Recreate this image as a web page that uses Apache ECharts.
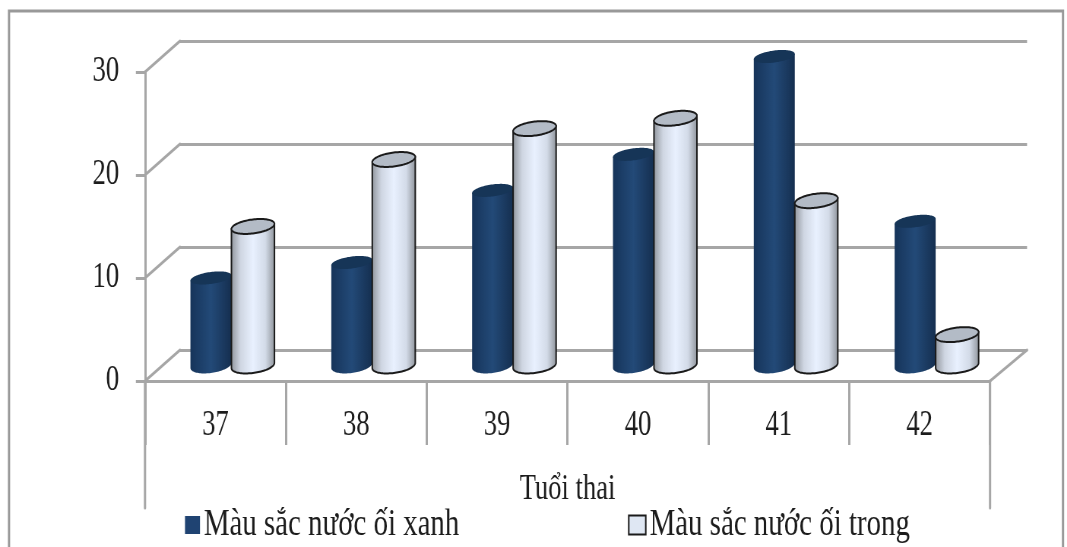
<!DOCTYPE html>
<html>
<head>
<meta charset="utf-8">
<style>
html,body{margin:0;padding:0;background:#fff;width:1067px;height:547px;overflow:hidden}
#stage{position:absolute;left:0;top:0;height:547px;transform-origin:0 0}
</style>
<script src="https://cdn.jsdelivr.net/npm/echarts@6/dist/echarts.min.js"></script>
</head>
<body>
<div id="stage"></div>
<script>
const categories = ['37', '38', '39', '40', '41', '42'];
const greenFluid = [8.5, 10, 17, 20.5, 30, 14];
const clearFluid = [13.5, 20, 23, 24, 16, 3];
const yTicks = [0, 10, 20, 30];
const seriesNames = ['Màu sắc nước ối xanh', 'Màu sắc nước ối trong'];
const axisTitle = 'Tuổi thai';

// The type is set condensed, so the drawing is laid out wider and narrowed as a whole.
const SX = 0.76;
const X = px => px / SX;
const stage = document.getElementById('stage');
stage.style.width = X(1067) + 'px';
stage.style.transform = 'scaleX(' + SX + ')';

const FONT = '"Liberation Serif","Times New Roman",serif';
const FS = 35;
const INK = '#1c1c1c';
const LINE = '#a6a6a6';
const DEPTH_X = 35, DEPTH_Y = 31;

const hGrad = stops => ({
  type: 'linear', x: 0, y: 0, x2: 1, y2: 0,
  colorStops: stops.map(s => ({ offset: s[0], color: s[1] }))
});

const darkBody = hGrad([[0, '#16345a'], [0.5, '#234a78'], [1, '#152f50']]);
const lightBody = hGrad([[0, '#8e939a'], [0.22, '#cfd6e2'], [0.5, '#e9f1ff'], [0.78, '#d3dbe8'], [1, '#8c9198']]);

// A cylinder standing at mid depth of the floor: a tilted top ellipse over a rounded body.
function cylinder(shift, radius, ry, body, cap, stroke) {
  return function (params, api) {
    const i = api.value(0);
    const top = api.coord([i, api.value(1)]);
    const base = api.coord([i, 0]);
    const cx = top[0] + X(DEPTH_X / 2 + shift);
    const yt = top[1] - DEPTH_Y / 2;
    const yb = base[1] - DEPTH_Y / 2;
    const rx = X(radius), tilt = 2.6;
    const at = (y, t, r) => [cx + rx * Math.cos(t), y + r * Math.sin(t) - tilt * Math.cos(t)];
    const N = 48;
    const bodyPts = [at(yt, Math.PI, ry), at(yt, 0, ry)];
    for (let k = 0; k <= N; k++) bodyPts.push(at(yb, Math.PI * k / N, 7.5));
    const capPts = [];
    for (let k = 0; k < N * 2; k++) capPts.push(at(yt, Math.PI * k / N, ry));
    const line = stroke ? { stroke: '#1a1a1a', lineWidth: 2 } : { stroke: null };
    return {
      type: 'group',
      children: [
        { type: 'polygon', shape: { points: bodyPts }, style: Object.assign({ fill: body }, line) },
        { type: 'polygon', shape: { points: capPts }, style: Object.assign({ fill: cap }, line) }
      ]
    };
  };
}

function seg(x1, y1, x2, y2) {
  return {
    type: 'line',
    shape: { x1, y1, x2, y2 },
    style: { stroke: LINE, lineWidth: 3, lineCap: 'round' }
  };
}

// Diagonal edges of the side wall, one per value tick.
function wallEdge(params, api) {
  const p = api.coord([0, api.value(1)]);
  const left = params.coordSys.x;
  return seg(left, p[1], left + X(DEPTH_X), p[1] - DEPTH_Y);
}

// Floor's right edge and the two long outer dividers under the axis.
function floorFrame(params) {
  const c = params.coordSys;
  const right = c.x + c.width, bottom = c.y + c.height;
  return {
    type: 'group',
    children: [
      seg(right, bottom, right + X(37), bottom - DEPTH_Y),
      seg(c.x, bottom, c.x, 508),
      seg(right, bottom, right, 508)
    ]
  };
}

const textStyle = { fontFamily: FONT, fontSize: FS, color: INK };
const legendText = { fontFamily: FONT, fontSize: 38, color: INK };

const option = {
  animation: false,
  backgroundColor: '#fff',
  textStyle: { fontFamily: FONT },
  graphic: [{
    type: 'rect',
    shape: { x: X(9), y: 11, width: X(1054), height: 560 },
    style: { fill: null, stroke: '#999', lineWidth: 3 },
    silent: true
  }],
  legend: [
    {
      left: X(185), top: 506, itemWidth: X(15), itemHeight: 18,
      padding: 0, textStyle: legendText,
      data: [{ name: seriesNames[0], icon: 'rect', itemStyle: { color: '#1f4372', borderWidth: 0 } }]
    },
    {
      left: X(628), top: 506, itemWidth: X(17), itemHeight: 19,
      padding: 0, textStyle: legendText,
      data: [{ name: seriesNames[1], icon: 'rect', itemStyle: { color: '#dfe7f3', borderColor: '#1a1a1a', borderWidth: 2 } }]
    }
  ],
  grid: [
    { left: X(145), right: X(77), top: 72, bottom: 166 },
    { left: X(180), right: X(40), top: 41, bottom: 197 }
  ],
  xAxis: [
    {
      gridIndex: 0, type: 'category', data: categories,
      axisLine: { show: true, lineStyle: { color: LINE, width: 3 } },
      axisTick: { show: true, length: 64, lineStyle: { color: LINE, width: 3 } },
      axisLabel: Object.assign({ margin: 27 }, textStyle),
      name: axisTitle, nameLocation: 'middle', nameGap: 91, nameTextStyle: textStyle,
      splitLine: { show: false }
    },
    { gridIndex: 1, type: 'category', data: categories, show: false }
  ],
  yAxis: [
    {
      gridIndex: 0, type: 'value', min: 0, max: 30, interval: 10,
      axisLine: { show: true, lineStyle: { color: LINE, width: 3 } },
      axisTick: { show: true, length: 12, lineStyle: { color: LINE, width: 3 } },
      axisLabel: Object.assign({ margin: 34 }, textStyle),
      splitLine: { show: false }
    },
    {
      gridIndex: 1, type: 'value', min: 0, max: 30, interval: 10,
      axisLine: { show: false }, axisTick: { show: false }, axisLabel: { show: false },
      splitLine: { show: true, lineStyle: { color: LINE, width: 3 } }
    }
  ],
  series: [
    {
      type: 'custom', silent: true, xAxisIndex: 0, yAxisIndex: 0, z: 1,
      renderItem: wallEdge, encode: { x: 0, y: 1 },
      data: yTicks.map(v => [0, v])
    },
    {
      type: 'custom', silent: true, xAxisIndex: 0, yAxisIndex: 0, z: 1,
      renderItem: floorFrame, encode: { x: 0, y: 1 },
      data: [[0, 0]]
    },
    {
      name: seriesNames[0], type: 'custom', xAxisIndex: 0, yAxisIndex: 0, z: 3,
      renderItem: cylinder(-22, 20.5, 6, darkBody, '#163557', false), encode: { x: 0, y: 1 },
      itemStyle: { color: '#1f4372' },
      data: greenFluid.map((v, i) => [i, v])
    },
    {
      name: seriesNames[1], type: 'custom', xAxisIndex: 0, yAxisIndex: 0, z: 4,
      renderItem: cylinder(20, 21.5, 7, lightBody, '#b3bbc6', true), encode: { x: 0, y: 1 },
      itemStyle: { color: '#dfe7f3' },
      data: clearFluid.map((v, i) => [i, v])
    }
  ]
};

echarts.init(stage).setOption(option);
</script>
</body>
</html>
